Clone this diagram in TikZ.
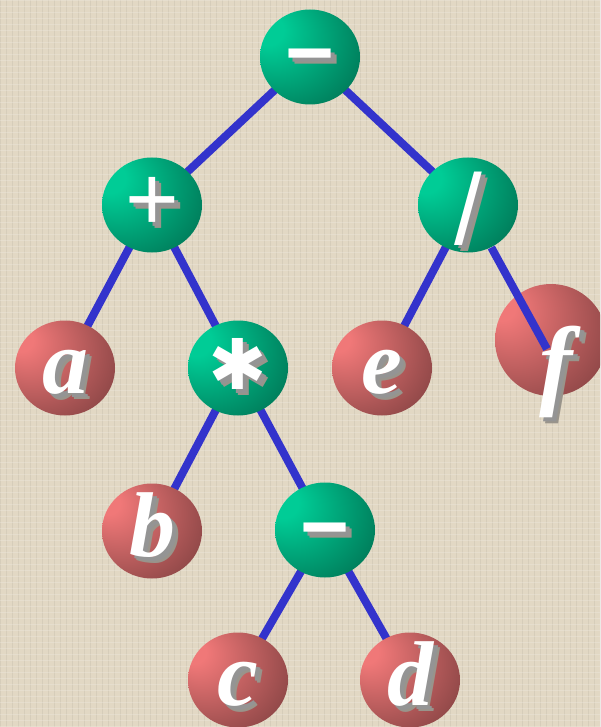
\documentclass[tikz,border=0pt]{standalone}
\usepackage{fontspec}
\setmainfont{Liberation Serif}
\setsansfont{Liberation Sans}
\newfontfamily\symfont{DejaVu Sans}
\usetikzlibrary{shapes.geometric,backgrounds}
\definecolor{paper}{RGB}{226,216,196}
\definecolor{linkblue}{RGB}{51,51,204}
\definecolor{ghi}{RGB}{0,204,150}
\definecolor{gdark}{RGB}{0,92,66}
\definecolor{rhi}{RGB}{240,120,120}
\definecolor{rdark}{RGB}{112,56,56}
\pgfdeclareradialshading{gball}{\pgfqpoint{-24bp}{16bp}}{color(0bp)=(ghi); color(8bp)=(ghi); color(52bp)=(gdark); color(70bp)=(gdark)}
\pgfdeclareradialshading{rball}{\pgfqpoint{-24bp}{16bp}}{color(0bp)=(rhi); color(6bp)=(rhi); color(50bp)=(rdark); color(70bp)=(rdark)}
\newcommand\shtxt[1]{\makebox[0pt][l]{\hspace{3pt}\raisebox{-3pt}{\textcolor{black!25!paper!60!gray}{#1}}}\makebox[0pt][l]{\hspace{2pt}\raisebox{-2pt}{\textcolor{black!42}{#1}}}\textcolor{white}{#1}}
\begin{document}
\begin{tikzpicture}[x=0.5pt, y=-0.5pt,
    txt/.style={inner sep=0pt, text height=25pt, text depth=0pt,
        font=\bfseries\itshape\fontsize{46}{46}\selectfont},
    op/.style={txt, ellipse, minimum width=50pt, minimum height=47.5pt,
        shading=gball, font=\sffamily\fontsize{46}{46}\selectfont},
    var/.style={txt, ellipse, minimum width=50pt, minimum height=47.5pt, shading=rball},
    link/.style={line width=4pt, linkblue}]
    \useasboundingbox (0,0) rectangle (600,727);
    \clip (0,0) rectangle (600,727);
    \node[op, font=\sffamily\bfseries\fontsize{42}{42}\selectfont] (minus) at (310,57) {\shtxt{−}};
    \node[op] (plus) at (152,205) {\shtxt{+}};
    \node[op, font=\sffamily\fontsize{50}{50}\selectfont] (slash) at (468,205) {\shtxt{\raisebox{-7pt}{/}}};
    \node[var] (a) at (65,368) {\shtxt{a}};
    \node[op, font=\symfont\fontsize{35}{35}\selectfont] (times) at (238,368) {\shtxt{\raisebox{2pt}{✱}}};
    \node[var] (e) at (382,368) {\shtxt{e}};
    \node[var] (b) at (152,531) {\shtxt{b}};
    \node[op, font=\sffamily\bfseries\fontsize{42}{42}\selectfont] (sub) at (325,530) {\shtxt{−}};
    \node[var] (c) at (238,680) {\shtxt{c}};
    \node[var] (d) at (410,680) {\shtxt{d}};
    \node[var, minimum width=56pt, minimum height=56pt] (f) at (551,340) {};
    \coordinate (fend) at (547,349);
    \draw[link] (slash) -- (fend);
    \node[txt, font=\bfseries\itshape\fontsize{50}{50}\selectfont] (flabel) at (556,371) {\shtxt{f}};
    \begin{pgfonlayer}{background}
        \fill[paper] (0,0) rectangle (600,727);
        \foreach \i in {0,6,...,600}
            \draw[paper!80!black, line width=.4pt, opacity=.25] (\i,0) -- (\i,727);
        \foreach \j in {0,6,...,727}
            \draw[paper!50!white, line width=.4pt, opacity=.35] (0,\j) -- (600,\j);
        \draw[link] (minus.center) -- (plus.center);
        \draw[link] (minus.center) -- (slash.center);
        \draw[link] (plus.center) -- (a.center);
        \draw[link] (plus.center) -- (times.center);
        \draw[link] (slash.center) -- (e.center);
        \draw[link] (times.center) -- (b.center);
        \draw[link] (times.center) -- (sub.center);
        \draw[link] (sub.center) -- (c.center);
        \draw[link] (sub.center) -- (d.center);
    \end{pgfonlayer}
\end{tikzpicture}
\end{document}
